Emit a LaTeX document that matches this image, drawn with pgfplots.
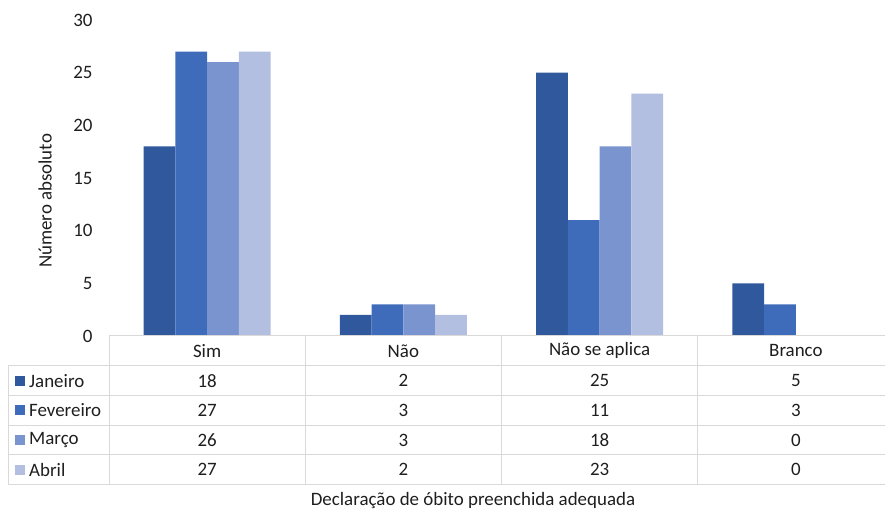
\documentclass[border=0pt]{standalone}
\usepackage{pgfplots}
\pgfplotsset{compat=1.18}
\usepackage{pgfplotstable}
\usepackage{fontspec}
\setmainfont{Carlito}
\definecolor{cjan}{HTML}{30589C}
\definecolor{cfev}{HTML}{3F6CBA}
\definecolor{cmar}{HTML}{7A94D0}
\definecolor{cabr}{HTML}{B3BFE0}
\definecolor{gridc}{HTML}{D9D9D9}
\definecolor{txt}{HTML}{1E1E1E}
\pgfplotstableread{
cat jan fev mar abr
0 18 27 26 27
1 2 3 3 2
2 25 11 18 23
3 5 3 0 0
}\data
\begin{document}
\begin{tikzpicture}[x=1bp,y=1bp,font=\fontsize{19}{23}\selectfont,text=txt]
\useasboundingbox (0,0) rectangle (885,510);
\begin{axis}[
  at={(109bp,174bp)}, anchor=south west,
  scale only axis, width=785bp, height=316bp,
  xmin=-0.5, xmax=3.5, ymin=0, ymax=30,
  ytick={0,5,...,30}, xtick=\empty,
  axis line style={draw=none},
  major tick length=0pt,
  ybar=0pt, bar width=31.8bp,
  /pgf/number format/assume math mode=true,
  yticklabel style={font=\fontsize{19}{23}\selectfont, text=txt, xshift=-13bp},
]
\addplot[fill=cjan, draw=none] table[x=cat,y=jan]{\data};
\addplot[fill=cfev, draw=none] table[x=cat,y=fev]{\data};
\addplot[fill=cmar, draw=none] table[x=cat,y=mar]{\data};
\addplot[fill=cabr, draw=none] table[x=cat,y=abr]{\data};
\end{axis}
% data table grid
\begin{scope}[gridc, line width=1bp]
\draw (109,174) -- (894,174);
\foreach \k in {1,...,5} \draw (8,{174-29.74*\k}) -- (894,{174-29.74*\k});
\draw (8,{174-29.74}) -- (8,{174-29.74*5});
\foreach \x in {109,305.25,501.5,697.75,894} \draw (\x,174) -- (\x,{174-29.74*5});
\end{scope}
% header
\foreach \c/\n in {0/Sim,1/Não,2/Não se aplica,3/Branco}
  \node at ({109+196.25*(\c+0.5)},{174-29.74*0.5}) {\n};
% values
\foreach \r in {0,...,3}{
  \foreach \c [count=\i from 1] in {jan,fev,mar,abr}{
    \pgfplotstablegetelem{\r}{\c}\of\data
    \node at ({109+196.25*(\r+0.5)},{174-29.74*(\i+0.5)}) {\pgfplotsretval};
  }
}
% legend keys
\foreach \c/\n [count=\i from 1] in {cjan/Janeiro,cfev/Fevereiro,cmar/Março,cabr/Abril}{
  \fill[\c] (15,{174-29.74*(\i+0.5)-5}) rectangle (25,{174-29.74*(\i+0.5)+5});
  \node[anchor=west, inner sep=0pt] at (29,{174-29.74*(\i+0.5)}) {\n};
}
% axis titles
\node[rotate=90] at (45,309) {Número absoluto};
\node at (473,9) {Declaração de óbito preenchida adequada};
\end{tikzpicture}
\end{document}
